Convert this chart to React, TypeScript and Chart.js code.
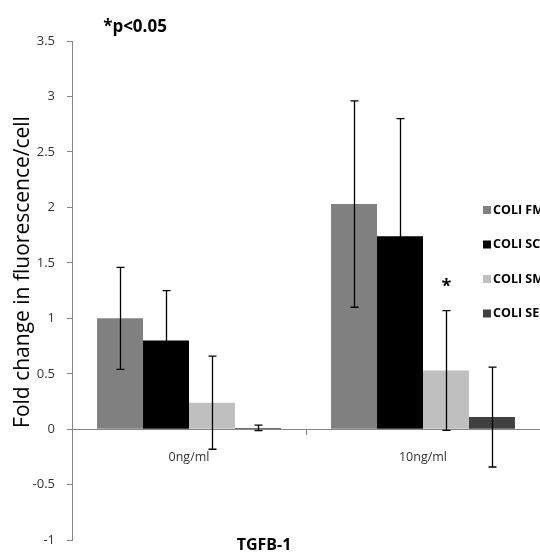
import React, { useEffect, useRef } from "react";
import { Chart, registerables } from "chart.js";

Chart.register(...registerables);

const categories = ["0ng/ml", "10ng/ml"];
const seriesNames = ["COLI FM", "COLI SC", "COLI SM", "COLI SE"];
const seriesColors = ["#808080", "#000000", "#bfbfbf", "#404040"];
const fmValues = [1.0, 2.03];
const fmErrors = [0.46, 0.93];
const scValues = [0.8, 1.74];
const scErrors = [0.45, 1.06];
const smValues = [0.24, 0.53];
const smErrors = [0.42, 0.54];
const seValues = [0.012, 0.11];
const seErrors = [0.025, 0.45];
const smSignificance = ["", "*"];
const yMin = -1;
const yMax = 3.5;
const yStep = 0.5;
const yTitle = "Fold change in fluorescence/cell";
const xTitle = "TGFB-1";
const noteText = "*p<0.05";

const FONT = "'Open Sans', 'Liberation Sans', sans-serif";

const errorBarPlugin = {
  id: "errorBars",
  afterDatasetsDraw(chart: any) {
    const ctx = chart.ctx;
    const y = chart.scales.y;
    chart.data.datasets.forEach((ds: any, i: number) => {
      const meta = chart.getDatasetMeta(i);
      meta.data.forEach((bar: any, j: number) => {
        const v = ds.data[j];
        const e = ds.errors[j];
        const x = Math.round(bar.x) + 0.5;
        const top = y.getPixelForValue(v + e);
        const bot = y.getPixelForValue(v - e);
        ctx.save();
        ctx.strokeStyle = "#000";
        ctx.lineWidth = 1.3;
        ctx.beginPath();
        ctx.moveTo(x, top);
        ctx.lineTo(x, bot);
        ctx.moveTo(x - 4, top);
        ctx.lineTo(x + 4, top);
        ctx.moveTo(x - 4, bot);
        ctx.lineTo(x + 4, bot);
        ctx.stroke();
        if (ds.marks && ds.marks[j]) {
          ctx.fillStyle = "#000";
          ctx.font = `bold 18px ${FONT}`;
          ctx.textAlign = "center";
          ctx.textBaseline = "middle";
          ctx.fillText(ds.marks[j], x, top - 24);
        }
        ctx.restore();
      });
    });
  },
};

const annotationPlugin = {
  id: "annotations",
  afterDraw(chart: any) {
    const ctx = chart.ctx;
    const area = chart.chartArea;
    ctx.save();
    ctx.fillStyle = "#000";
    ctx.font = `bold 17px ${FONT}`;
    ctx.textAlign = "center";
    ctx.textBaseline = "middle";
    ctx.fillText(noteText, area.left + 63, area.top - 14);
    ctx.font = `bold 16px ${FONT}`;
    ctx.fillText(xTitle, area.left + 192, area.bottom + 5);
    ctx.save();
    ctx.translate(23, area.top + 231);
    ctx.rotate(-Math.PI / 2);
    ctx.font = `21px ${FONT}`;
    ctx.fillText(yTitle, 0, 0);
    ctx.restore();
    ctx.font = `bold 12.5px ${FONT}`;
    ctx.textAlign = "left";
    chart.data.datasets.forEach((ds: any, i: number) => {
      const ly = 210 + i * 34.5;
      const lx = area.right - 57;
      ctx.fillStyle = ds.backgroundColor;
      ctx.fillRect(lx, ly - 4, 8, 8);
      ctx.fillStyle = "#000";
      ctx.fillText(ds.label, lx + 10, ly);
    });
    ctx.restore();
  },
};

export default function App() {
  const ref = useRef<HTMLCanvasElement | null>(null);
  useEffect(() => {
    if (!ref.current) return;
    const values = [fmValues, scValues, smValues, seValues];
    const errors = [fmErrors, scErrors, smErrors, seErrors];
    const chart = new Chart(ref.current, {
      type: "bar",
      data: {
        labels: categories,
        datasets: seriesNames.map((name, i) => ({
          label: name,
          data: values[i],
          errors: errors[i],
          marks: i === 2 ? smSignificance : undefined,
          backgroundColor: seriesColors[i],
          borderWidth: 0,
          categoryPercentage: 0.786,
          barPercentage: 1.0,
        })) as any,
      },
      options: {
        responsive: false,
        animation: false,
        devicePixelRatio: 1,
        layout: { padding: { top: 41, bottom: 17, left: 0, right: 0 } },
        plugins: {
          legend: { display: false },
          tooltip: { enabled: false },
        },
        scales: {
          x: {
            position: { y: 0 } as any,
            grid: {
              drawOnChartArea: false,
              drawTicks: true,
              tickLength: 5,
              color: "#868686",
            },
            border: { color: "#868686", width: 1 },
            ticks: {
              color: "#333",
              font: { family: FONT, size: 12.5 },
              padding: 16,
            },
          },
          y: {
            min: yMin,
            max: yMax,
            afterFit: (s: any) => {
              s.width = 72;
            },
            ticks: {
              stepSize: yStep,
              color: "#333",
              font: { family: FONT, size: 13 },
              padding: 12,
              callback: (v: any) => `${Math.round(Number(v) * 10) / 10}`,
            },
            grid: {
              drawOnChartArea: false,
              drawTicks: true,
              tickLength: 5,
              color: "#868686",
            },
            border: { color: "#868686", width: 1 },
          },
        },
      },
      plugins: [errorBarPlugin, annotationPlugin],
    });
    return () => chart.destroy();
  }, []);
  return (
    <div style={{ position: "absolute", left: 0, top: 0, width: 540, height: 560, background: "#fff" }}>
      <canvas ref={ref} width={540} height={560} />
    </div>
  );
}
